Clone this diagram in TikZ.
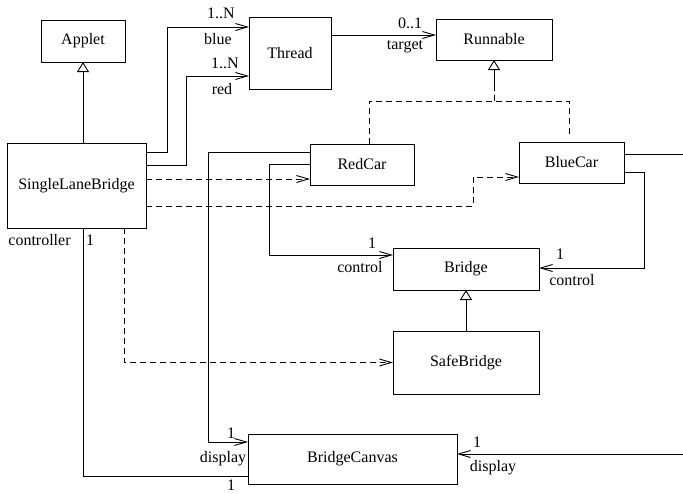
\documentclass[tikz,border=0pt]{standalone}
\usepackage{fontspec}
\setmainfont{Liberation Serif}
\usetikzlibrary{arrows.meta,calc}
\begin{document}
\begin{tikzpicture}[x=1pt,y=-1pt,
  every node/.style={font=\fontsize{16}{19}\selectfont},
  cls/.style={draw,line width=0.9pt,inner sep=0pt,outer sep=0pt},
  lbl/.style={inner sep=0pt},
  assoc/.style={line width=0.9pt,-{Straight Barb[length=12pt,width=7pt,line width=0.9pt]}},
  plain/.style={line width=0.9pt},
  dep/.style={line width=0.9pt,dash pattern=on 6pt off 4pt,-{Straight Barb[length=12pt,width=7pt,line width=0.9pt]}},
  real/.style={line width=0.9pt,dash pattern=on 6pt off 4pt},
  inh/.style={line width=0.9pt,-{Triangle[open,fill=white,length=10pt,width=12pt,line width=0.9pt]}}
]
\useasboundingbox (0,0) rectangle (683,493);
% classes
\node[cls,minimum width=84pt,minimum height=42pt] (applet) at (83,41) {Applet};
\node[cls,minimum width=82pt,minimum height=72pt] (thread) at (290,53) {Thread};
\node[cls,minimum width=116pt,minimum height=41pt] (runnable) at (494,39.5) {Runnable};
\node[cls,minimum width=139pt,minimum height=85pt] (slb) at (76.5,185.5) {SingleLaneBridge};
\node[cls,minimum width=104pt,minimum height=41pt] (redcar) at (362,164.5) {RedCar};
\node[cls,minimum width=105pt,minimum height=41pt] (bluecar) at (571.5,162.5) {BlueCar};
\node[cls,minimum width=146pt,minimum height=42pt] (bridge) at (466,269) {Bridge};
\node[cls,minimum width=146pt,minimum height=63pt] (safebridge) at (466,362.5) {SafeBridge};
\node[cls,minimum width=209pt,minimum height=50pt] (canvas) at (352.5,459) {BridgeCanvas};
% inheritance
\draw[inh] (applet.south |- slb.north) -- (applet.south);
\draw[inh] (safebridge.north) -- (bridge.south);
% realization
\coordinate (rj) at ($(runnable.south)+(0,41)$);
\draw[real] ($(redcar.north west)+(59,0)$) |- (rj) -| ($(bluecar.north west)+(50,-8)$);
\draw[real] (rj) -- ++(0,-14);
\draw[inh] ($(rj)+(0,-14)$) -- (runnable.south);
% SLB -> Thread
\draw[assoc] ($(slb.north east)+(0,9)$) -- ++(21,0) |- ($(thread.north west)+(0,10)$);
\draw[assoc] ($(slb.north east)+(0,22)$) -- ++(40,0) |- ($(thread.north west)+(0,59)$);
\node[lbl] at (221,13) {1..N};
\node[lbl] at (218,39) {blue};
\node[lbl] at (225,63) {1..N};
\node[lbl] at (222,89) {red};
% Thread -> Runnable
\draw[assoc] ($(thread.north east)+(0,18)$) -- ($(runnable.north west)+(0,16)$);
\node[lbl] at (410,23) {0..1};
\node[lbl] at (405,47) {target};
% SLB dependencies
\draw[dep] ($(slb.north east)+(0,36)$) -- ($(redcar.north west)+(0,35)$);
\draw[dep] ($(slb.north east)+(0,63)$) -- ++(327,0) |- ($(bluecar.north west)+(0,35)$);
\draw[dep] ($(slb.south west)+(117,0)$) |- (safebridge.west);
% RedCar -> BridgeCanvas
\draw[assoc] ($(redcar.north west)+(0,8)$) -- ++(-102,0) |- ($(canvas.north west)+(0,8)$);
\node[lbl] at (231,433) {1};
\node[lbl] at (223,459) {display};
% RedCar -> Bridge
\draw[assoc] ($(redcar.north west)+(0,20)$) -- ++(-41,0) |- ($(bridge.north west)+(0,7)$);
\node[lbl] at (372,243) {1};
\node[lbl] at (360,267) {control};
% BlueCar -> Bridge
\draw[assoc] ($(bluecar.north east)+(0,30)$) -- ++(20,0) |- ($(bridge.north east)+(0,20)$);
\node[lbl] at (560,254) {1};
\node[lbl] at (572,280) {control};
% BlueCar -> BridgeCanvas (wrapping off the right edge)
\coordinate (offA) at (690,154);
\coordinate (offB) at (690,454);
\draw[plain] ($(bluecar.north east)+(0,12)$) -- (offA);
\draw[assoc] (offB) -- ($(canvas.north east)+(0,20)$);
\node[lbl] at (477,442) {1};
\node[lbl] at (493,468) {display};
% SLB -- BridgeCanvas
\draw[plain] (applet.south |- slb.south) |- ($(canvas.north west)+(0,42)$);
\node[lbl] at (39.5,240) {controller};
\node[lbl] at (90,240) {1};
\node[lbl] at (231,485.5) {1};
\end{tikzpicture}
\end{document}
